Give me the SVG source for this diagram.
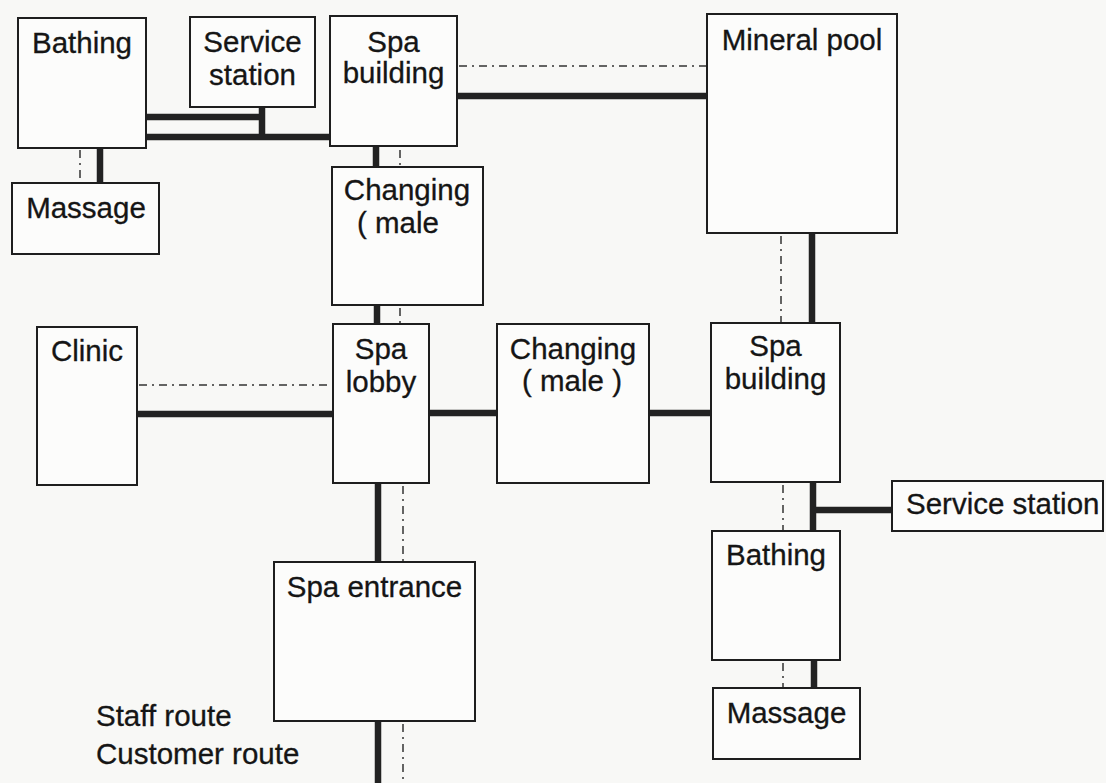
<svg xmlns="http://www.w3.org/2000/svg" width="1106" height="783" viewBox="0 0 1106 783">
<style>
.bg{fill:#f8f8f6}
.box{fill:#fcfcfb;stroke:#1e1e1e;stroke-width:2}
.lbl{font-family:"Liberation Sans",Arial,sans-serif;font-size:29.5px;fill:#151515;stroke:#151515;stroke-width:0.3;text-anchor:middle}
.ls{text-anchor:start}
.thick{fill:none;stroke:#222;stroke-width:6.5}
.staff{fill:none;stroke:#333;stroke-width:1.5;stroke-dasharray:8 5 2 5}
</style>
<rect class="bg" x="0" y="0" width="1106" height="783"/>
<g id="connectors">
  <path class="thick" d="M146,117 H262 M262,107 V137 M146,137 H330"/>
  <path class="thick" d="M100,148 V183"/>
  <path class="thick" d="M457,96 H707"/>
  <path class="thick" d="M376,146 V167"/>
  <path class="thick" d="M377,305 V324"/>
  <path class="thick" d="M137,414 H333"/>
  <path class="thick" d="M429,413 H497"/>
  <path class="thick" d="M649,413 H711"/>
  <path class="thick" d="M378,483 V562"/>
  <path class="thick" d="M378,721 V783"/>
  <path class="thick" d="M812,233 V323"/>
  <path class="thick" d="M813,482 V531"/>
  <path class="thick" d="M813,510 H892"/>
  <path class="thick" d="M814,660 V688"/>
  <path class="staff" d="M80,150 V183"/>
  <path class="staff" d="M459,66 H707"/>
  <path class="staff" d="M400,150 V167"/>
  <path class="staff" d="M400,308 V324"/>
  <path class="staff" d="M139,385 H333"/>
  <path class="staff" d="M403,486 V562"/>
  <path class="staff" d="M403,724 V783"/>
  <path class="staff" d="M781,236 V323"/>
  <path class="staff" d="M783,485 V531"/>
  <path class="staff" d="M783,663 V688"/>
</g>
<g id="bathing1"><rect class="box" x="18" y="18" width="128" height="130"/><text class="lbl" x="82" y="53">Bathing</text></g>
<g id="service1"><rect class="box" x="190" y="17" width="125" height="90"/><text class="lbl" x="252.5" y="52">Service</text><text class="lbl" x="252.5" y="85">station</text></g>
<g id="spabuilding1"><rect class="box" x="330" y="16" width="127" height="130"/><text class="lbl" x="393.5" y="52">Spa</text><text class="lbl" x="393.5" y="83">building</text></g>
<g id="massage1"><rect class="box" x="12" y="183" width="147" height="71"/><text class="lbl" x="86" y="218">Massage</text></g>
<g id="changing1"><rect class="box" x="332" y="167" width="151" height="138"/><text class="lbl" x="407" y="200">Changing</text><text class="lbl ls" x="357" y="233">( male</text></g>
<g id="mineralpool"><rect class="box" x="707" y="14" width="190" height="219"/><text class="lbl" x="802" y="50">Mineral pool</text></g>
<g id="clinic"><rect class="box" x="37" y="327" width="100" height="158"/><text class="lbl" x="87" y="361">Clinic</text></g>
<g id="spalobby"><rect class="box" x="333" y="324" width="96" height="159"/><text class="lbl" x="381" y="359">Spa</text><text class="lbl" x="381" y="392">lobby</text></g>
<g id="changing2"><rect class="box" x="497" y="324" width="152" height="159"/><text class="lbl" x="573" y="359">Changing</text><text class="lbl" x="572" y="391">( male )</text></g>
<g id="spabuilding2"><rect class="box" x="711" y="323" width="129" height="159"/><text class="lbl" x="775.5" y="356">Spa</text><text class="lbl" x="775.5" y="389">building</text></g>
<g id="service2"><rect class="box" x="892" y="481" width="211" height="50"/><text class="lbl ls" x="906" y="514">Service station</text></g>
<g id="bathing2"><rect class="box" x="712" y="531" width="128" height="129"/><text class="lbl" x="776" y="565">Bathing</text></g>
<g id="massage2"><rect class="box" x="713" y="688" width="147" height="71"/><text class="lbl" x="786.5" y="723">Massage</text></g>
<g id="spaentrance"><rect class="box" x="274" y="562" width="201" height="159"/><text class="lbl" x="374.5" y="597">Spa entrance</text></g>
<g id="legend"><text class="lbl ls" x="96" y="726">Staff route</text><text class="lbl ls" x="96" y="764">Customer route</text></g>
</svg>
